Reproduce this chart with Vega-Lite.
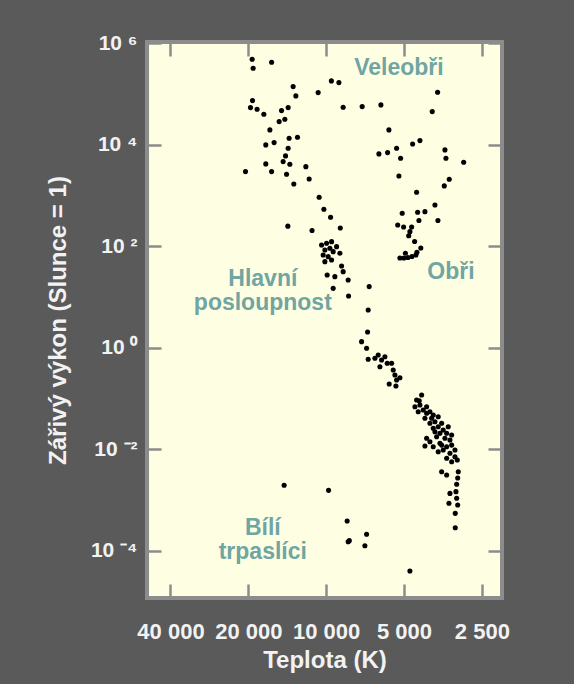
{
  "$schema": "https://vega.github.io/schema/vega-lite/v6.json",
  "width": 355,
  "height": 556,
  "autosize": {"type": "none"},
  "padding": {"left": 147, "top": 42, "right": 72, "bottom": 86},
  "background": "#5a5a5a",
  "config": {
    "view": {"fill": "#fefee2", "stroke": "#8c8c8c", "strokeWidth": 4},
    "font": "Liberation Sans"
  },
  "datasets": {
    "stars": [
      {"T":19330,"L":490000},{"T":19160,"L":326000},{"T":16260,"L":428000},{"T":13420,"L":141300},{"T":13100,"L":92600},
      {"T":10740,"L":107600},{"T":9549,"L":183000},{"T":8930,"L":169400},{"T":19270,"L":74800},{"T":19620,"L":54450},
      {"T":18500,"L":50630},{"T":17420,"L":40350},{"T":14880,"L":47520},{"T":14030,"L":54450},{"T":15200,"L":28840},
      {"T":14450,"L":32160},{"T":16510,"L":19780},{"T":13910,"L":13570},{"T":12910,"L":14200},{"T":17120,"L":10010},
      {"T":15900,"L":11110},{"T":14030,"L":8617},{"T":14360,"L":6074},{"T":14670,"L":4689},{"T":13820,"L":4168},
      {"T":17120,"L":4225},{"T":20510,"L":2978},{"T":16260,"L":2978},{"T":14230,"L":2645},{"T":11985,"L":3736},
      {"T":11636,"L":2137},{"T":13340,"L":1703},{"T":10645,"L":931},{"T":10208,"L":540},{"T":9617,"L":375.5},
      {"T":8597,"L":55450},{"T":7258,"L":56980},{"T":6143,"L":61550},{"T":3708,"L":109500},{"T":3890,"L":45410},
      {"T":5721,"L":19780},{"T":4632,"L":10470},{"T":4340,"L":12170},{"T":5342,"L":8617},{"T":6254,"L":6651},
      {"T":5788,"L":7055},{"T":5155,"L":5471},{"T":3474,"L":7976},{"T":3443,"L":5471},{"T":2940,"L":4563},
      {"T":5233,"L":2449},{"T":3343,"L":2109},{"T":3495,"L":1556},{"T":4470,"L":1168},{"T":3797,"L":656.7},
      {"T":5082,"L":450.4},{"T":4430,"L":471.3},{"T":4151,"L":484.3},{"T":4379,"L":324.7},{"T":3698,"L":324.7},
      {"T":5290,"L":264.7},{"T":5019,"L":241.7},{"T":4673,"L":241.7},{"T":4796,"L":162.1},{"T":4550,"L":125.2},
      {"T":4306,"L":93.2},{"T":4458,"L":76.3},{"T":4939,"L":73.2},{"T":5187,"L":59.2},{"T":5005,"L":59.2},
      {"T":4830,"L":60.5},{"T":4660,"L":63.3},{"T":4498,"L":67.8},{"T":4745,"L":195.3},{"T":8820,"L":231},
      {"T":11340,"L":205.3},{"T":14070,"L":250.7},{"T":10420,"L":106.7},{"T":9966,"L":115.3},{"T":9531,"L":124},
      {"T":10118,"L":85.1},{"T":9677,"L":91.9},{"T":9396,"L":78.8},{"T":9116,"L":98.8},{"T":8852,"L":73.2},
      {"T":10272,"L":67.8},{"T":9825,"L":62.8},{"T":9531,"L":54},{"T":10118,"L":50},{"T":8719,"L":41.1},
      {"T":8597,"L":31.8},{"T":9912,"L":27.3},{"T":9256,"L":25.3},{"T":8222,"L":21.8},{"T":9396,"L":14.9},
      {"T":8193,"L":10.5},{"T":6819,"L":16.1},{"T":6880,"L":5.58},{"T":6917,"L":2.055},{"T":7297,"L":1.323},
      {"T":6979,"L":0.98},{"T":6880,"L":0.595},{"T":6479,"L":0.622},{"T":6293,"L":0.723},{"T":6106,"L":0.576},
      {"T":5929,"L":0.669},{"T":6198,"L":0.425},{"T":5807,"L":0.496},{"T":5584,"L":0.496},{"T":5505,"L":0.366},
      {"T":5423,"L":0.2916},{"T":5187,"L":0.258},{"T":5342,"L":0.2324},{"T":5706,"L":0.1938},{"T":5375,"L":0.177},
      {"T":4275,"L":0.1176},{"T":4470,"L":0.0937},{"T":4538,"L":0.0691},{"T":4340,"L":0.0747},{"T":4214,"L":0.0595},
      {"T":4406,"L":0.0551},{"T":4089,"L":0.0512},{"T":3970,"L":0.0551},{"T":4151,"L":0.0408},{"T":3911,"L":0.0408},
      {"T":3797,"L":0.035},{"T":3970,"L":0.0325},{"T":3688,"L":0.0279},{"T":3855,"L":0.0259},{"T":3527,"L":0.024},
      {"T":3632,"L":0.0207},{"T":3421,"L":0.0207},{"T":3740,"L":0.0177},{"T":3474,"L":0.0165},{"T":3322,"L":0.0152},
      {"T":4089,"L":0.0165},{"T":3970,"L":0.0141},{"T":4151,"L":0.0116},{"T":3632,"L":0.0131},{"T":3421,"L":0.0112},
      {"T":3272,"L":0.0121},{"T":3527,"L":0.00968},{"T":3322,"L":0.00833},{"T":3177,"L":0.00714},{"T":3421,"L":0.00664},
      {"T":3272,"L":0.00569},{"T":3112,"L":0.00614},{"T":3577,"L":0.00361},{"T":3421,"L":0.00311},{"T":3085,"L":0.00361},
      {"T":4367,"L":0.0908},{"T":4089,"L":0.0691},{"T":3855,"L":0.0474},{"T":3688,"L":0.0439},{"T":3577,"L":0.0325},
      {"T":3373,"L":0.0279},{"T":3797,"L":0.0222},{"T":3272,"L":0.0191},{"T":3577,"L":0.0121},{"T":3177,"L":0.00968},
      {"T":3688,"L":0.00896},{"T":3855,"L":0.0112},{"T":3101,"L":0.00271},{"T":3129,"L":0.00204},{"T":3149,"L":0.00146},
      {"T":3322,"L":0.00135},{"T":3129,"L":0.00108},{"T":3352,"L":0.000861},{"T":3101,"L":0.000797},{"T":3169,"L":0.000546},
      {"T":3169,"L":0.000284},{"T":14540,"L":0.00195},{"T":9790,"L":0.00155},{"T":8296,"L":0.000385},{"T":8222,"L":0.00015},
      {"T":8140,"L":0.000158},{"T":6979,"L":0.000211},{"T":7085,"L":0.000125},{"T":4745,"L":0.0000398}
    ],
    "labels": [
      {"label": "Veleobři", "T": 5233, "L": 330000},
      {"label": "Hlavní\nposloupnost", "T": 17580, "L": 22.8},
      {"label": "Obři", "T": 3293, "L": 31.9},
      {"label": "Bílí\ntrpaslíci", "T": 17580, "L": 0.00028}
    ]
  },
  "layer": [
    {
      "data": {"name": "stars"},
      "mark": {"type": "circle", "size": 26, "color": "#000000", "opacity": 1},
      "encoding": {
        "x": {
          "field": "T", "type": "quantitative",
          "scale": {"type": "log", "domain": [2090, 49300], "reverse": true, "nice": false},
          "axis": {
            "orient": "bottom", "values": [40000, 20000, 10000, 5000, 2500],
            "labelExpr": "datum.value == 40000 ? '40 000' : datum.value == 20000 ? '20 000' : datum.value == 10000 ? '10 000' : datum.value == 5000 ? '5 000' : '2 500'",
            "tickSize": -14, "tickWidth": 2.5, "tickColor": "#8c8c8c", "domain": false, "grid": false,
            "labelColor": "#f2f2f2", "labelFontSize": 22, "labelFontWeight": "bold", "labelFont": "Liberation Sans",
            "labelPadding": 37, "labelFlush": false, "labelOverlap": false,
            "title": "Teplota (K)", "titleColor": "#f2f2f2", "titleFontSize": 24, "titleFont": "Liberation Sans",
            "titleFontWeight": "bold", "titlePadding": 6
          }
        },
        "y": {
          "field": "L", "type": "quantitative",
          "scale": {"type": "log", "domain": [0.0000117, 1070000], "nice": false},
          "axis": {
            "orient": "left", "values": [0.0001, 0.01, 1, 100, 10000, 1000000],
            "labelExpr": "datum.value >= 100000 ? '10 ⁶' : datum.value >= 1000 ? '10 ⁴' : datum.value >= 10 ? '10 ²' : datum.value >= 0.1 ? '10 ⁰' : datum.value >= 0.001 ? '10 ⁻²' : '10 ⁻⁴'",
            "tickSize": -14, "tickWidth": 2.5, "tickColor": "#8c8c8c", "domain": false, "grid": false,
            "labelColor": "#f2f2f2", "labelFontSize": 21, "labelFontWeight": "bold", "labelFont": "Liberation Sans",
            "labelPadding": 24, "labelFlush": false, "labelOverlap": false,
            "title": "Zářivý výkon (Slunce = 1)", "titleColor": "#f2f2f2", "titleFontSize": 24, "titleFont": "Liberation Sans",
            "titleFontWeight": "bold", "titlePadding": 20
          }
        }
      }
    },
    {
      "data": {"name": "labels"},
      "mark": {"type": "text", "font": "Liberation Sans", "fontWeight": "bold", "fontSize": 23, "color": "#6fa5a2", "lineBreak": "\n", "lineHeight": 24, "align": "center", "baseline": "middle"},
      "encoding": {
        "x": {
          "field": "T", "type": "quantitative",
          "scale": {"type": "log", "domain": [2090, 49300], "reverse": true, "nice": false},
          "axis": {"orient": "top", "values": [40000, 20000, 10000, 5000, 2500], "labels": false, "tickSize": -14, "tickWidth": 2.5, "tickColor": "#8c8c8c", "domain": false, "grid": false, "title": null}
        },
        "y": {
          "field": "L", "type": "quantitative",
          "scale": {"type": "log", "domain": [0.0000117, 1070000], "nice": false},
          "axis": {"orient": "right", "values": [0.0001, 0.01, 1, 100, 10000, 1000000], "labels": false, "tickSize": -14, "tickWidth": 2.5, "tickColor": "#8c8c8c", "domain": false, "grid": false, "title": null}
        },
        "text": {"field": "label"}
      }
    }
  ],
  "resolve": {"axis": {"x": "independent", "y": "independent"}}
}
